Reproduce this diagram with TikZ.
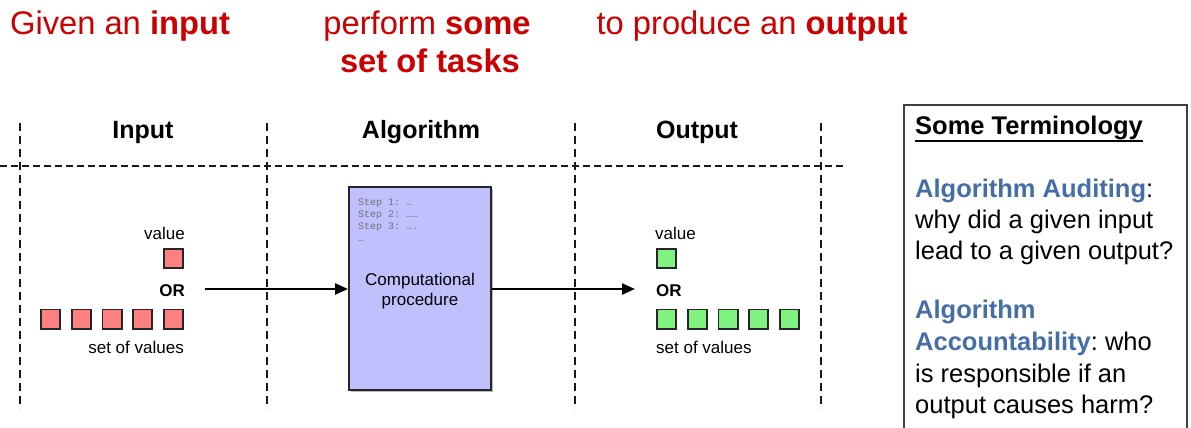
\documentclass[tikz,border=0pt]{standalone}
\usepackage{fontspec}
\setmainfont{Liberation Sans}
\setmonofont{Liberation Mono}
\usetikzlibrary{arrows.meta,shadows}
\frenchspacing
\definecolor{titlered}{RGB}{204,0,0}
\definecolor{termblue}{RGB}{68,110,165}
\definecolor{procblue}{RGB}{192,192,255}
\definecolor{valred}{RGB}{255,128,128}
\definecolor{valgreen}{RGB}{128,242,128}

\begin{document}
\begin{tikzpicture}[x=1pt,y=-1pt]
		\useasboundingbox (0,0) rectangle (1191,428);
		\tikzstyle{title}=[anchor=base,inner sep=0pt,text=titlered,font=\fontsize{32.7}{38}\selectfont]
		\tikzstyle{header}=[anchor=base,inner sep=0pt,font=\bfseries\fontsize{25}{30}\selectfont]
		\tikzstyle{small}=[inner sep=0pt,font=\fontsize{17}{20}\selectfont]
		\tikzstyle{steps}=[anchor=base west,inner sep=0pt,text=black!55,font=\ttfamily\fontsize{10}{12}\selectfont]
		\tikzstyle{term}=[anchor=base west,inner sep=0pt,font=\fontsize{25.5}{31}\selectfont]
		\tikzstyle{cell}=[draw=black!85,line width=1.8pt,minimum size=19.2pt,inner sep=0pt]
		\tikzstyle{divider}=[line width=2.3pt,black!90]
		\tikzstyle{flow}=[line width=2.4pt,-{Triangle[length=13pt,width=11pt]}]
		\tikzstyle{algobox}=[draw=black!85,line width=1.6pt,fill=procblue,minimum width=142.4pt,minimum height=203.4pt,inner sep=0pt,drop shadow={shadow xshift=2pt,shadow yshift=-2pt,fill=black!45,opacity=.6}]

		\node[title] (given) at (120,35) {Given an \textbf{input}};
		\node[title] (perform) at (427,35) {perform \textbf{some}};
		\node[title] (tasks) at (430,73) {\textbf{set of tasks}};
		\node[title] (produce) at (752,35) {to produce an \textbf{output}};

		\foreach \x in {20,267,575,821}
			\draw[divider,dash pattern=on 8pt off 5pt] (\x,123) -- (\x,409);
		\draw[divider,dash pattern=on 7pt off 4pt] (0,166) -- (843,166);

		\node[header] (h_in) at (143,138) {Input};
		\node[header] (h_alg) at (421,138) {Algorithm};
		\node[header] (h_out) at (697,138) {Output};

		\node[algobox] (algo) at (420,288.5) {};
		\foreach \i/\t in {1/…,2/……,3/….}
			\node[steps] (step_\i) at (358,193+12*\i) {Step \i: \t};
		\node[steps] (step_4) at (358,241) {…};
		\node[small,anchor=base] (proc_1) at (420,285) {Computational};
		\node[small,anchor=base] (proc_2) at (420,305) {procedure};

		\node[small,anchor=base east] (v_in) at (185,239) {value};
		\node[cell,fill=valred] (c_in) at (173.5,258.5) {};
		\node[small,anchor=base east,font=\bfseries\fontsize{17}{20}\selectfont] (or_in) at (185,296) {OR};
		\foreach \i in {0,...,4}
			\node[cell,fill=valred] (in_\i) at (50.5+30.75*\i,319) {};
		\node[small,anchor=base east] (s_in) at (184,353) {set of values};

		\node[small,anchor=base west] (v_out) at (655,239) {value};
		\node[cell,fill=valgreen] (c_out) at (666.5,258.5) {};
		\node[small,anchor=base west,font=\bfseries\fontsize{17}{20}\selectfont] (or_out) at (656,296) {OR};
		\foreach \i in {0,...,4}
			\node[cell,fill=valgreen] (out_\i) at (666.5+30.75*\i,319) {};
		\node[small,anchor=base west] (s_out) at (656,353) {set of values};

		\coordinate (in_start) at (205,289);
		\coordinate (out_end) at (635,289);
		\draw[flow] (in_start) -- (algo.west |- in_start);
		\draw[flow] (algo.east |- out_end) -- (out_end);

		\draw[line width=1.2pt,black!75] (904,428) -- (904,105) -- (1187,105) -- (1187,428);
		\node[term,font=\bfseries\fontsize{25.5}{31}\selectfont] (t_0) at (915,134) {Some Terminology};
		\draw[line width=1.8pt] ([yshift=-7pt]t_0.base west) -- ([yshift=-7pt]t_0.base east);
		\node[term] (t_1) at (915,197) {\textcolor{termblue}{\textbf{Algorithm Auditing}}:};
		\node[term] (t_2) at (915,228) {why did a given input};
		\node[term] (t_3) at (915,259) {lead to a given output?};
		\node[term] (t_4) at (915,318) {\textcolor{termblue}{\textbf{Algorithm}}};
		\node[term] (t_5) at (915,350) {\textcolor{termblue}{\textbf{Accountability}}: who};
		\node[term] (t_6) at (915,382) {is responsible if an};
		\node[term] (t_7) at (915,413) {output causes harm?};
	\end{tikzpicture}
\end{document}
